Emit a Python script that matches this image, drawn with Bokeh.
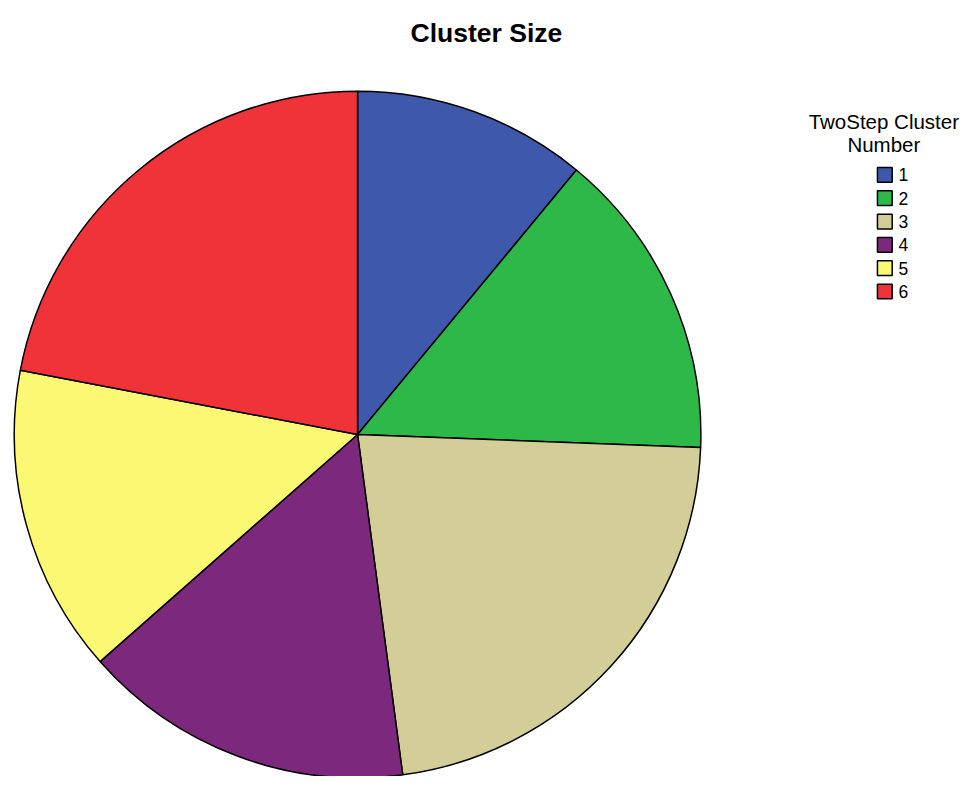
import math
from bokeh.plotting import figure
from bokeh.models import Range1d, ColumnDataSource
from bokeh.core.properties import value
from bokeh.embed import file_html
from bokeh.resources import INLINE

# ---- data ----
clusters = ["1", "2", "3", "4", "5", "6"]
shares = [11.0, 14.6, 22.3, 15.6, 14.5, 22.0]
colors = ["#3E58AC", "#2EB848", "#D3CE97", "#7C287D", "#FBF873", "#EF3338"]
title_text = "Cluster Size"
legend_title = ["TwoStep Cluster", "Number"]

W, H = 964, 776
# data space spans the reference's full 980x792 area, slightly compressed to fit
p = figure(width=W, height=H, output_backend="svg", toolbar_location=None,
           x_range=Range1d(0, 980), y_range=Range1d(0, 792),
           min_border=0, outline_line_color=None)
p.axis.visible = False
p.grid.visible = False
p.background_fill_color = "white"
p.border_fill_color = "white"

def Y(py):
    return 792 - py

# pie
total = sum(shares)
starts, ends = [], []
cum = 0.0
for s in shares:
    a0 = cum / total * 2 * math.pi
    cum += s
    a1 = cum / total * 2 * math.pi
    starts.append(math.pi / 2 - a1)
    ends.append(math.pi / 2 - a0)
src = ColumnDataSource(dict(start=starts, end=ends, color=colors, cluster=clusters))
p.wedge(x=363, y=Y(443), radius=349, start_angle="start", end_angle="end",
        fill_color="color", line_color="black", line_width=1.5, source=src)

# title
p.text(x=[494], y=[Y(33)], text=[title_text], text_font=value("Liberation Sans"),
       text_font_size="26.5px", text_font_style="bold", text_align="center",
       text_baseline="alphabetic", text_color="black")

# legend title
p.text(x=[898, 898], y=[Y(123), Y(147)], text=legend_title,
       text_font=value("Liberation Sans"), text_font_size="20.5px",
       text_align="center", text_baseline="alphabetic", text_color="black")

# legend items
ys = [Y(178 + i * 23.8) for i in range(len(clusters))]
lsrc = ColumnDataSource(dict(y=ys, color=colors, label=clusters))
p.rect(x=899, y="y", width=15, height=15, fill_color="color", line_color="black",
       line_width=1.5, source=lsrc)
p.text(x=913, y="y", text="label", text_font=value("Liberation Sans"),
       text_font_size="17.5px", text_align="left", text_baseline="middle",
       text_color="black", source=lsrc)

open("out.html", "w").write(file_html(p, INLINE))
